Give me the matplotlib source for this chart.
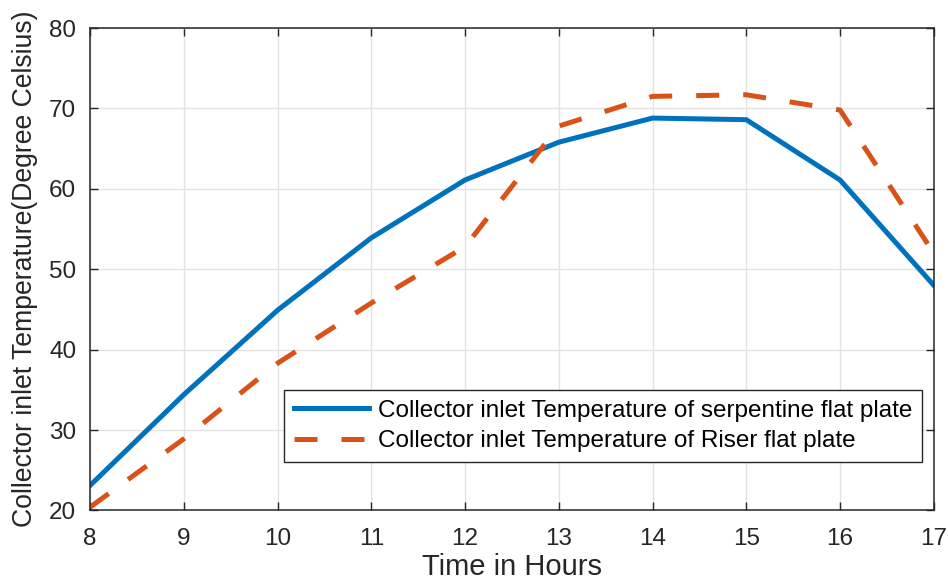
import numpy as np
import matplotlib.pyplot as plt

plt.rcParams['font.family'] = ['Liberation Sans', 'DejaVu Sans']

# data
hours = [8, 9, 10, 11, 12, 13, 14, 15, 16, 17]
serpentine = [23.1, 34.4, 44.9, 53.9, 61.1, 65.8, 68.8, 68.6, 61.1, 48.0]
riser = [20.4, 28.9, 38.3, 45.8, 52.8, 67.8, 71.5, 71.7, 69.8, 52.0]

xticks = [8, 9, 10, 11, 12, 13, 14, 15, 16, 17]
yticks = [20, 30, 40, 50, 60, 70, 80]

blue = '#0072BD'
orange = '#D95319'

fig = plt.figure(figsize=(9.48, 5.84), dpi=100)
ax = fig.add_axes([0.095, 0.126, 0.89, 0.826])

ax.plot(hours, serpentine, color=blue, lw=3.6, solid_joinstyle='miter',
        label='Collector inlet Temperature of serpentine flat plate')
ax.plot(hours, riser, color=orange, lw=3.6, linestyle=(0, (4.6, 4.8)),
        dash_capstyle='butt',
        label='Collector inlet Temperature of Riser flat plate')

ax.set_xlim(8, 17)
ax.set_ylim(20, 80)
ax.set_xticks(xticks)
ax.set_yticks(yticks)
ax.grid(True, color='#e3e3e3', lw=1)
ax.set_axisbelow(True)
ax.tick_params(direction='in', length=6, width=1, top=True, right=True,
               labelsize=17.5, colors='#262626')
ax.tick_params(axis='x', pad=13)
ax.tick_params(axis='y', pad=10)
for s in ax.spines.values():
    s.set_linewidth(1.1)
    s.set_color('#262626')

ax.set_xlabel('Time in Hours', fontsize=21, color='#262626', labelpad=2)
ax.set_ylabel('Collector inlet Temperature(Degree Celsius)', fontsize=19.2,
              color='#262626', labelpad=8)

leg = ax.legend(loc='lower right', bbox_to_anchor=(0.986, 0.10),
                borderaxespad=0, fontsize=17.5, handlelength=3.1,
                handletextpad=0.35, fancybox=False, framealpha=1,
                edgecolor='#262626', borderpad=0.4, labelspacing=0.35)
leg.get_frame().set_linewidth(1)

fig.savefig('out.png', dpi=100)
